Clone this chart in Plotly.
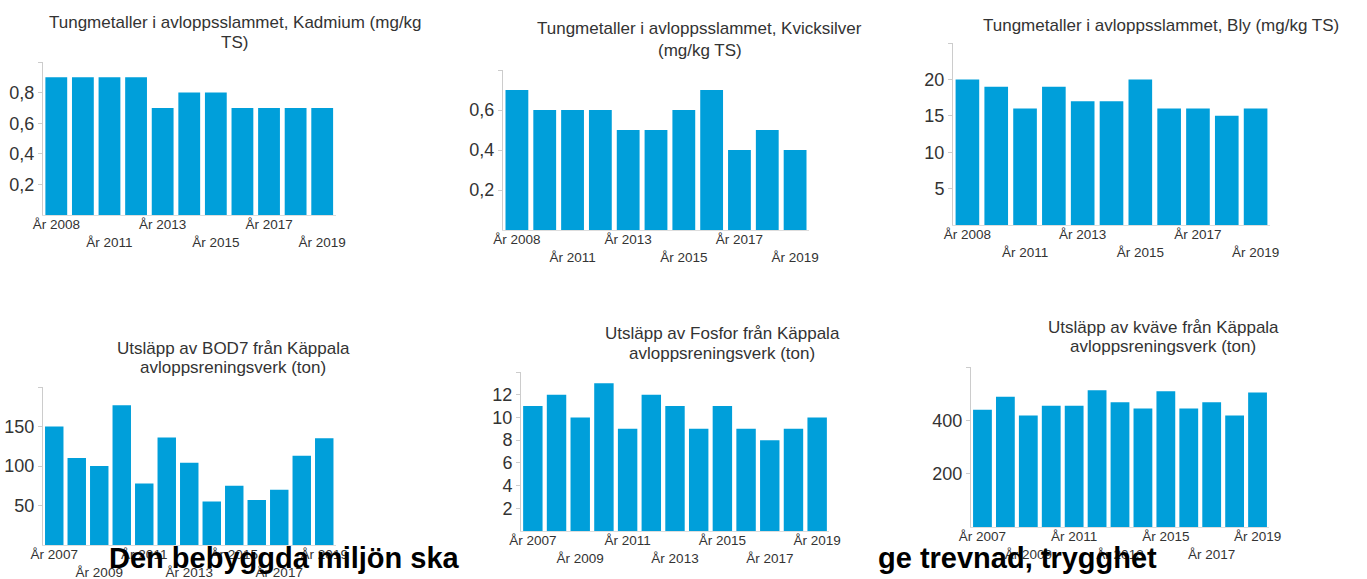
import plotly.graph_objects as go

# ---------------- data ----------------
years_a = ["År 2008", "År 2010", "År 2011", "År 2012", "År 2013", "År 2014",
           "År 2015", "År 2016", "År 2017", "År 2018", "År 2019"]
years_b = ["År 2007", "År 2008", "År 2009", "År 2010", "År 2011", "År 2012", "År 2013",
           "År 2014", "År 2015", "År 2016", "År 2017", "År 2018", "År 2019"]

kadmium = [0.9, 0.9, 0.9, 0.9, 0.7, 0.8, 0.8, 0.7, 0.7, 0.7, 0.7]
kvicksilver = [0.7, 0.6, 0.6, 0.6, 0.5, 0.5, 0.6, 0.7, 0.4, 0.5, 0.4]
bly = [20, 19, 16, 19, 17, 17, 20, 16, 16, 15, 16]
bod7 = [150, 110, 100, 177, 78, 136, 104, 55, 75, 57, 70, 113, 135]
fosfor = [11, 12, 10, 13, 9, 12, 11, 9, 11, 9, 8, 9, 10]
kvave = [440, 488, 418, 455, 455, 513, 468, 444, 509, 444, 468, 418, 504]

# shown x tick labels (staggered in two rows)
xlabels_a = ["År 2008", "År 2011", "År 2013", "År 2015", "År 2017", "År 2019"]
xrows_a = [0, 1, 0, 1, 0, 1]
xlabels_b = ["År 2007", "År 2009", "År 2011", "År 2013", "År 2015", "År 2017", "År 2019"]
xrows_b = [0, 1, 0, 1, 0, 1, 0]

# y ticks
yt_kadmium = [0.2, 0.4, 0.6, 0.8, 1.0]
yl_kadmium = ["0,2", "0,4", "0,6", "0,8", ""]
yt_kvick = [0.2, 0.4, 0.6, 0.8]
yl_kvick = ["0,2", "0,4", "0,6", ""]
yt_bly = [5, 10, 15, 20, 25]
yl_bly = ["5", "10", "15", "20", ""]
yt_bod = [50, 100, 150, 200]
yl_bod = ["50", "100", "150", ""]
yt_fos = [2, 4, 6, 8, 10, 12, 14]
yl_fos = ["2", "4", "6", "8", "10", "12", ""]
yt_kv = [200, 400, 600]
yl_kv = ["200", "400", ""]

titles = [
    ["Tungmetaller i avloppsslammet, Kadmium (mg/kg", "TS)"],
    ["Tungmetaller i avloppsslammet, Kvicksilver", "(mg/kg TS)"],
    ["Tungmetaller i avloppsslammet, Bly (mg/kg TS)"],
    ["Utsläpp av BOD7 från Käppala", "avloppsreningsverk (ton)"],
    ["Utsläpp av Fosfor från Käppala", "avloppsreningsverk (ton)"],
    ["Utsläpp av kväve från Käppala", "avloppsreningsverk (ton)"],
]

# ---------------- layout ----------------
W, H = 1367, 579
FONT = "Liberation Sans, Arial, sans-serif"
BAR = "#009fda"
TXT = "#333333"

panels = [
    dict(years=years_a, vals=kadmium, xl=xlabels_a, xr=xrows_a, yt=yt_kadmium, yl=yl_kadmium,
         dom=(43, 335.5, 62, 215), tx=[235, 234], ty=[23, 42]),
    dict(years=years_a, vals=kvicksilver, xl=xlabels_a, xr=xrows_a, yt=yt_kvick, yl=yl_kvick,
         dom=(503, 809, 70, 230), tx=[700, 700], ty=[29, 50]),
    dict(years=years_a, vals=bly, xl=xlabels_a, xr=xrows_a, yt=yt_bly, yl=yl_bly,
         dom=(953, 1270, 43, 225), tx=[1161], ty=[26]),
    dict(years=years_b, vals=bod7, xl=xlabels_b, xr=xrows_b, yt=yt_bod, yl=yl_bod,
         dom=(43, 335.5, 387, 545), tx=[233, 233], ty=[348, 367]),
    dict(years=years_b, vals=fosfor, xl=xlabels_b, xr=xrows_b, yt=yt_fos, yl=yl_fos,
         dom=(521, 829, 372, 531), tx=[722, 722], ty=[333, 353]),
    dict(years=years_b, vals=kvave, xl=xlabels_b, xr=xrows_b, yt=yt_kv, yl=yl_kv,
         dom=(971, 1269, 367, 527), tx=[1163, 1163], ty=[327, 347]),
]

fig = go.Figure()
annotations = []
layout_axes = {}

for i, p in enumerate(panels):
    n = i + 1
    xa = "x" if n == 1 else f"x{n}"
    ya = "y" if n == 1 else f"y{n}"
    fig.add_trace(go.Bar(x=p["years"], y=p["vals"], xaxis=xa, yaxis=ya,
                         marker=dict(color=BAR, line=dict(width=0)), showlegend=False,
                         hoverinfo="x+y"))
    x0, x1, yt, yb = p["dom"]
    ymax = p["yt"][-1]
    ticktext = [("<br>" + lab) if r == 1 else lab for lab, r in zip(p["xl"], p["xr"])]
    layout_axes["xaxis" if n == 1 else f"xaxis{n}"] = dict(
        domain=[x0 / W, x1 / W], anchor=ya, type="category",
        tickmode="array", tickvals=p["xl"], ticktext=ticktext,
        tickfont=dict(family=FONT, size=13.5, color=TXT), tickangle=0,
        showline=True, linecolor="#dddddd", linewidth=1, ticks="",
        showgrid=False, zeroline=False, fixedrange=True, automargin=False,
    )
    layout_axes["yaxis" if n == 1 else f"yaxis{n}"] = dict(
        domain=[1 - yb / H, 1 - yt / H], anchor=xa, range=[0, ymax],
        tickmode="array", tickvals=p["yt"], ticktext=p["yl"],
        tickfont=dict(family=FONT, size=18, color=TXT),
        showline=True, linecolor="#cccccc", linewidth=1,
        ticks="outside", ticklen=4, tickcolor="#cccccc",
        showgrid=False, zeroline=False, fixedrange=True, automargin=False,
    )
    for line, cx, cy in zip(titles[i], p["tx"], p["ty"]):
        annotations.append(dict(text=line, x=cx / W, y=1 - cy / H, xref="paper", yref="paper",
                                xanchor="center", yanchor="middle", showarrow=False,
                                font=dict(family=FONT, size=17, color=TXT)))

overlay = [("Den bebyggda miljön ska", 107), ("ge trevnad, trygghet", 876)]
for text, lx in overlay:
    annotations.append(dict(text="<b>" + text + "</b>", x=lx / W, y=1 - 558 / H,
                            xref="paper", yref="paper", xanchor="left", yanchor="middle",
                            showarrow=False, font=dict(family=FONT, size=29, color="#000000")))

fig.update_layout(
    width=W, height=H, margin=dict(l=0, r=0, t=0, b=0, autoexpand=False),
    autosize=False,
    paper_bgcolor="white", plot_bgcolor="white",
    bargap=0.18, annotations=annotations, **layout_axes,
)

# pull x tick labels slightly closer to the baseline
for n in range(1, 7):
    key = "xaxis" if n == 1 else f"xaxis{n}"
    try:
        fig.layout[key].ticklabelstandoff = -3
    except Exception:
        pass

fig.write_html(
    "out.html",
    config={"displayModeBar": False, "responsive": False},
    default_width="1367px", default_height="579px",
    post_script="document.documentElement.style.margin='0';document.body.style.margin='0';"
                "document.body.style.overflow='hidden';document.documentElement.style.overflow='hidden';",
)
